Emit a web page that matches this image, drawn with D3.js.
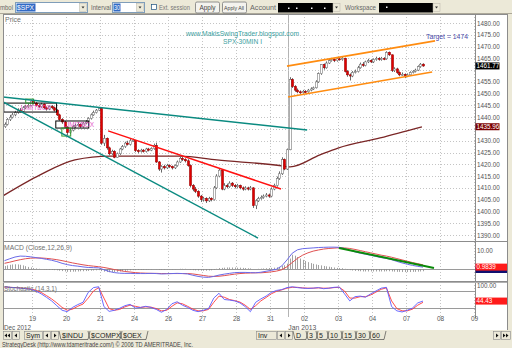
<!DOCTYPE html>
<html><head><meta charset="utf-8">
<script src="https://cdn.jsdelivr.net/npm/d3@7/dist/d3.min.js"></script>
<style>
html,body{margin:0;padding:0;background:#ece9d8;overflow:hidden}
svg{display:block}
text{font-family:"Liberation Sans",Arial,sans-serif}
</style></head><body>
<svg id="chart" width="512" height="348"></svg>
<script>
// ================= DATA =================
const firstBar = -11;          // bar index of first visible 30-min bar (Dec 18)
const firstOpen = 1436.0;
const closes = [
 1437,1439,1440,1441,1442,1443,1442.5,1444,1444.5,1445,1446.8,
 1446,1445,1444.5,1445.5,1444,1443.5,1444.5,1444,1443,1441,1439,1438,1435.8,
 1433.5,1434.5,1436,1436.5,1437,1436,1437.5,1438,1439.5,1441,1442,1443,1443.7,
 1429,1431,1427,1424.5,1425.5,1423,1424.5,1426.5,1427.5,1429,1428.5,1430,1430.2,
 1425.8,1425.5,1426,1425.5,1426.5,1426,1426.7,
 1428,1421,1418,1419,1418.5,1419.5,1419,1418.5,1419.5,1421,1422.5,1422,1421.5,
 1419.5,1411,1409.5,1408.5,1406.5,1405,1405.5,1404.5,1405.5,1405,1410,1415,1417.5,
 1409.5,1411,1410.5,1412,1411,1410.5,1411,1410,1409.5,1410,1409.5,1410,1402.5,
 1404.5,1405.5,1406,1406.5,1407,1406.5,1409.5,1411,1414,1416,1422,1418,1426.2,
 1456,1453,1451.5,1450.8,1450.5,1451,1450.8,1451.5,1452,1452.5,1455,1458.5,1462.4,
 1461,1463,1464,1464.5,1464,1464.8,1464.5,1465,1459.5,1458,1457.5,1459,1459.4,
 1461,1462.5,1462,1463.5,1464,1463.5,1464.5,1465,1464.5,1465,1464.8,1467.5,1466.5,
 1459.8,1460.5,1459,1458,1458.2,1457.5,1458,1459,1459.5,1460,1461.5,1462.5,1461.77
];
const highs = [
 1437.8,1439.6,1441,1441.8,1442.7,1443.8,1443.9,1444.7,1445.3,1445.8,1447.2,
 1447.7,1446.5,1445.6,1446.1,1445.9,1444.6,1445,1445.2,1444.5,1443.4,1441.5,1439.6,1438.4,
 1436.2,1435,1436.6,1437.2,1437.8,1437.4,1438,1438.8,1440,1441.6,1442.8,1443.5,1444.2,
 1443.8,1432.5,1431.4,1427.5,1426.2,1426,1425,1427,1428.2,1429.6,1430,1430.8,1430.9,
 1430.4,1426.4,1426.6,1426.5,1427,1427,1427.2,
 1428.8,1429.2,1421.4,1419.6,1419.8,1420.2,1420,1419.5,1420,1421.6,1423.2,1423.4,1422.6,
 1422.2,1420,1411.6,1410.4,1409,1407,1406.2,1406,1406.2,1406,1410.8,1415.8,1418.2,
 1418,1412,1411.8,1412.8,1412.5,1411.6,1411.7,1411.4,1410.6,1410.7,1410.5,1410.8,1410.3,
 1405.2,1406.2,1406.8,1407.2,1407.8,1407.6,1410.2,1411.8,1414.8,1417,1423,1422.5,1426.7,
 1457,1456.6,1453.6,1452.2,1451.4,1451.6,1451.5,1452,1452.7,1453,1455.7,1459,1462.6,
 1462.8,1463.7,1464.7,1465.2,1465,1465.4,1465.3,1465.6,1465.3,1460,1458.6,1459.6,1460.2,
 1461.8,1463.2,1463.4,1464,1464.8,1464.6,1465,1465.7,1465.5,1465.6,1465.5,1468,1467.9,
 1466.6,1461.2,1461,1459.5,1459,1458.6,1458.6,1459.5,1460,1460.6,1462,1463,1462.9
];
const lows = [
 1435.5,1436.5,1438.4,1439.5,1440.4,1441.5,1442,1442,1443.5,1444,1444.6,
 1445.4,1444.5,1443.8,1444,1443.5,1442.8,1443,1443.4,1442.4,1440.5,1438.5,1437.2,1435.5,
 1432.3,1432.8,1434,1435.4,1436,1435.5,1435.6,1437,1437.6,1439,1440.6,1441.6,1442.6,
 1428.3,1427.8,1426.2,1423.8,1424,1422.6,1422.8,1424,1426,1427,1428,1428,1429.5,
 1425.2,1424.7,1425,1425,1425,1425.5,1425.6,
 1426.2,1420.6,1417.2,1416.5,1417.8,1418,1418.4,1417.8,1418,1419,1420.6,1421.4,1420.8,
 1419,1410.2,1408.6,1407.8,1405.8,1404,1404.2,1403.6,1404,1404.3,1404.6,1409.5,1414.5,
 1409,1409,1409.8,1410,1410.4,1409.8,1410,1409.4,1408.8,1409,1408.9,1409,1401.5,
 1401,1404,1405,1405.4,1406,1405.8,1406,1409,1410.5,1413.4,1415.5,1417.5,1417.6,
 1426,1452.4,1450.8,1450.2,1449.9,1450,1450.2,1450.4,1451,1451.6,1452.2,1454.6,1458,
 1460.2,1460.6,1462.6,1463.6,1463.4,1463.6,1464,1464,1459,1457.2,1455.6,1457,1458.6,
 1459,1460.6,1461.4,1461.6,1463,1463,1463,1464,1464,1464,1464.2,1464.4,1466,
 1459.2,1459.2,1458.4,1457.4,1457.6,1456.6,1457,1457.6,1458.6,1459,1459.6,1461,1461.4
];
const dayLabels = ["19","20","21","24","26","27","28","31","02","03","04","07","08","09"];
const barsPerLabel = 13;
const yearBreakBar = 98;
const monthLabels = ["Dec 2012","Jan 2013"];
const priceTicks = d3.range(1390, 1481, 5);
const lastPrice = 1461.77;
const maLast = 1435.96;
// moving average (bar, price)
const maBars = [-11.6,2.6,15.9,29.3,56.1,70.2,95.5,98.2,109.6,116.5,132.6,148.6];
const maVals = [1406.6,1415.5,1421.9,1423.5,1423.5,1421.9,1419.3,1418.9,1424.0,1426.9,1431.2,1435.9];
// drawn trend lines: [bar, price]
const tealUpper   = [[-11.6,1448.6],[104.7,1434.6]];
const tealLower   = [[-11.6,1446.5],[85.9,1388.7]];
const redTrend    = [[28.6,1434.2],[94.7,1409.5]];
const orangeUpper = [[97.0,1461.7],[153.6,1472.4]];
const orangeLower = [[97.4,1448.6],[152.5,1459.2]];
const limitBoxes  = [[-10.8,1446.0,9.4,1442.2],[9.1,1438.4,21.7,1435.4]];
const greenBoxes  = [[-2.4,1447.7,0.6,1446.0],[11.4,1435.4,14.8,1432.0]];
const targetText = "Target = 1474";
// indicators, sampled every 2 bars from firstBar
const oscStep = 2;
const macdLine = [4.4,5.4,6.3,6.8,6.7,6.4,6.0,5.6,5.1,4.6,3.9,3.0,2.3,1.8,1.5,1.1,0.8,0.7,0.6,-0.4,
 -1.3,-1.9,-2.2,-2.3,-2.3,-2.4,-2.4,-2.4,-2.3,-2.4,-2.6,-2.5,-2.4,-2.3,-2.4,-2.6,-3.3,-3.9,-4.3,-4.4,
 -3.9,-3.2,-2.7,-2.3,-1.9,-1.8,-1.8,-1.9,-2.0,-1.7,-1.2,-0.7,-0.1,1.6,4.8,8.3,10.1,10.7,10.9,11.1,
 11.3,11.4,11.5,11.5,11.4,10.8,9.9,9.0,8.3,7.8,7.2,6.6,6.0,5.6,4.9,4.0,3.2,2.5,1.9,1.4,0.98];
const macdSignal = [3.0,3.6,4.3,4.9,5.4,5.7,5.8,5.8,5.6,5.3,4.9,4.4,3.8,3.2,2.7,2.2,1.8,1.5,1.2,0.8,
 0.3,-0.3,-0.8,-1.3,-1.6,-1.9,-2.1,-2.2,-2.3,-2.3,-2.4,-2.4,-2.4,-2.4,-2.4,-2.4,-2.6,-3.0,-3.4,-3.8,
 -3.9,-3.8,-3.5,-3.1,-2.7,-2.4,-2.2,-2.1,-2.0,-2.0,-1.8,-1.5,-1.1,-0.4,1.2,3.4,5.6,7.3,8.5,9.4,
 10.0,10.5,10.8,11.0,11.2,11.1,10.8,10.3,9.7,9.1,8.5,7.9,7.3,6.8,6.2,5.5,4.8,4.1,3.4,2.8,2.2];
// histogram, one value per bar
const macdHist = [
 1.6,1.9,2.2,2.4,2.5,2.4,2.2,1.9,1.5,1.1,0.8,
 0.5,0.3,0.1,0,-0.2,-0.3,-0.4,-0.5,-0.6,-0.7,-0.9,-1.1,-1.3,
 -1.5,-1.5,-1.4,-1.4,-1.3,-1.2,-1.2,-1.1,-1.0,-0.9,-0.8,-0.7,-0.6,
 -1.1,-1.4,-1.6,-1.7,-1.6,-1.6,-1.5,-1.3,-1.1,-1.0,-0.8,-0.7,-0.6,
 -0.6,-0.5,-0.4,-0.4,-0.3,-0.2,-0.2,
 0,-0.1,-0.3,-0.3,-0.3,-0.2,-0.2,-0.2,-0.1,0,0.1,0.1,0.1,
 0,-0.3,-0.6,-0.7,-0.8,-0.9,-0.9,-0.9,-0.8,-0.7,-0.4,0.1,0.5,
 0.6,0.7,0.8,0.8,0.8,0.8,0.7,0.7,0.6,0.5,0.4,0.3,0,
 0,0.1,0.2,0.3,0.4,0.5,0.6,0.7,0.9,1.1,1.6,2.0,2.8,
 5.5,7.5,7.0,6.3,5.5,4.8,4.2,3.6,3.1,2.7,2.4,2.1,1.9,
 1.6,1.4,1.2,1.0,0.8,0.6,0.5,0.4,0.1,-0.3,-0.6,-0.8,-1.0,
 -1.1,-1.2,-1.3,-1.3,-1.3,-1.3,-1.3,-1.3,-1.3,-1.3,-1.3,-1.2,-1.2,
 -1.3,-1.4,-1.5,-1.5,-1.6,-1.6,-1.6,-1.6,-1.5,-1.5,-1.4,-1.3,-1.2
];
const macdTrend = [[116.9,11.1],[153.2,0.5]];
const macdLast = 0.9839, macdSecond = 0.0;
const stochK = [95,93,92,90,88,86,80,70,58,45,28,12,7,22,32,40,75,92,95,25,
 8,12,19,28,33,20,22,26,22,15,5,15,35,42,30,22,12,7,12,18,
 55,72,50,48,45,38,25,7,40,52,62,75,82,85,92,95,92,90,89,90,
 92,88,90,93,94,70,45,60,62,58,70,80,90,93,25,10,6,12,20,38,44.43];
const stochD = [94,93,92,91,89,87,83,75,64,52,38,22,12,16,26,34,55,80,92,55,
 18,12,15,24,30,26,22,24,23,18,10,12,26,38,35,26,16,10,10,15,
 40,62,58,50,46,41,30,15,28,45,57,70,79,84,90,93,93,91,90,90,
 91,90,90,92,93,80,55,55,60,60,66,76,86,91,45,18,10,10,16,30,40];
const stochLast = 44.43;
const stochLevels = [20, 80];

// ================= DRAWING =================
const svg = d3.select("#chart");
const L = 3, R = 475, AX = 507;
const P = {top:14, bottom:241}, M = {top:242, bottom:281}, S = {top:282, bottom:317};

const x  = d3.scaleLinear().domain([0, 13]).range([32, 66]);
const yP = d3.scaleLinear().domain([1390, 1480]).range([235, 23]);
const yM = d3.scaleLinear().domain([0, 10]).range([269, 250]);
const yS = d3.scaleLinear().domain([20, 80]).range([308, 291]);
const xc = b => x(b + 0.5);

// background & white chart area
svg.append("rect").attr("width",512).attr("height",348).attr("fill","#ece9d8");
svg.append("rect").attr("x",L).attr("y",P.top).attr("width",AX-L).attr("height",330-P.top).attr("fill","#fff");

// clip paths
const defs = svg.append("defs");
[["cp",P],["cm",M],["cs",S]].forEach(([id,p])=>{
  defs.append("clipPath").attr("id",id).append("rect").attr("x",L).attr("y",p.top).attr("width",R-L).attr("height",p.bottom-p.top);
});

const labelBars = dayLabels.map((d,i)=>i*barsPerLabel);

// grids
function vGrid(p){
  const g = svg.append("g");
  g.selectAll("line").data(labelBars).join("line")
    .attr("x1",d=>Math.round(x(d))+0.5).attr("x2",d=>Math.round(x(d))+0.5)
    .attr("y1",p.top).attr("y2",p.bottom)
    .attr("stroke","#c4c4c4").attr("stroke-dasharray","1,2");
  g.append("line").attr("x1",Math.round(x(yearBreakBar))+0.5).attr("x2",Math.round(x(yearBreakBar))+0.5)
    .attr("y1",p.top).attr("y2",p.bottom).attr("stroke","#b4b4b4");
}
vGrid(P); vGrid(M); vGrid(S);
svg.append("g").selectAll("line").data(priceTicks).join("line")
  .attr("x1",L).attr("x2",R).attr("y1",d=>Math.round(yP(d))+0.5).attr("y2",d=>Math.round(yP(d))+0.5)
  .attr("stroke","#c4c4c4").attr("stroke-dasharray","1,2");

// ---- price pane ----
const pg = svg.append("g").attr("clip-path","url(#cp)");
const bars = closes.map((c,i)=>({b:firstBar+i, o: i===0?firstOpen:closes[i-1], c, h:highs[i], l:lows[i]}));
// moving average
pg.append("path").datum(maBars.map((b,i)=>[b,maVals[i]]))
  .attr("d", d3.line().x(d=>x(d[0]+0.5)).y(d=>yP(d[1])).curve(d3.curveMonotoneX))
  .attr("fill","none").attr("stroke","#7a2626").attr("stroke-width",1.3);
// candles
const cg = pg.append("g");
cg.selectAll("line").data(bars).join("line")
  .attr("x1",d=>Math.round(xc(d.b))+0.5).attr("x2",d=>Math.round(xc(d.b))+0.5)
  .attr("y1",d=>yP(d.h)).attr("y2",d=>yP(d.l)).attr("stroke","#6a6a6a").attr("stroke-width",1);
cg.selectAll("rect").data(bars).join("rect")
  .attr("x",d=>Math.round(xc(d.b))-0.5).attr("width",2)
  .attr("y",d=>yP(Math.max(d.o,d.c))).attr("height",d=>Math.max(1,Math.abs(yP(d.o)-yP(d.c))))
  .attr("fill",d=>d.c>=d.o?"#ffffff":"#e00000")
  .attr("stroke",d=>d.c>=d.o?"#777":"#a00000").attr("stroke-width",0.6);

// annotation boxes
pg.selectAll(".lb").data(limitBoxes).join("rect").attr("class","lb")
  .attr("x",d=>x(d[0])).attr("y",d=>yP(d[1])).attr("width",d=>x(d[2])-x(d[0])).attr("height",d=>yP(d[3])-yP(d[1]))
  .attr("fill","none").attr("stroke","#000").attr("stroke-width",1);
pg.selectAll(".lbt").data(limitBoxes).join("text").attr("class","lbt")
  .attr("x",(d,i)=>x(d[0])+(i===0?17:8)).attr("y",d=>(yP(d[1])+yP(d[3]))/2+2.4)
  .attr("font-size",6.5).attr("fill","#e040c0").attr("opacity",0.85).text("LIMITBOX");
pg.selectAll(".gb").data(greenBoxes).join("rect").attr("class","gb")
  .attr("x",d=>x(d[0])).attr("y",d=>yP(d[1])).attr("width",d=>x(d[2])-x(d[0])).attr("height",d=>yP(d[3])-yP(d[1]))
  .attr("fill","none").attr("stroke","#30a030").attr("stroke-width",1);

// trend lines
function tl(g, pts, sx, sy, color, w){
  g.append("line").attr("x1",sx(pts[0][0]+0.5)).attr("y1",sy(pts[0][1]))
   .attr("x2",sx(pts[1][0]+0.5)).attr("y2",sy(pts[1][1]))
   .attr("stroke",color).attr("stroke-width",w);
}
tl(pg, tealUpper, x, yP, "#0a8a80", 1.5);
tl(pg, tealLower, x, yP, "#0a8a80", 1.5);
tl(pg, redTrend, x, yP, "#ff1010", 1.5);
tl(pg, orangeUpper, x, yP, "#ff8c10", 1.6);
tl(pg, orangeLower, x, yP, "#ff8c10", 1.6);

// texts in price pane
svg.append("text").attr("x",5).attr("y",22).attr("font-size",7).attr("fill","#707070").text("Price");
svg.append("text").attr("x",186).attr("y",36).attr("font-size",6.3).attr("fill","#3a9e9e")
  .attr("textLength",113).attr("lengthAdjust","spacingAndGlyphs").text("www.MakisSwingTrader.blogspot.com");
svg.append("text").attr("x",223).attr("y",43.6).attr("font-size",6.3).attr("fill","#3a9e9e")
  .attr("textLength",39).attr("lengthAdjust","spacingAndGlyphs").text("SPX-30MIN I");
svg.append("text").attr("x",426).attr("y",38.5).attr("font-size",7).attr("fill","#4848a8")
  .attr("textLength",42).attr("lengthAdjust","spacingAndGlyphs").text(targetText);

// ---- MACD pane ----
const mg = svg.append("g").attr("clip-path","url(#cm)");
mg.append("line").attr("x1",L).attr("x2",R).attr("y1",Math.round(yM(0))+0.5).attr("y2",Math.round(yM(0))+0.5).attr("stroke","#9a9a9a");
mg.selectAll(".h").data(macdHist).join("line").attr("class","h")
  .attr("x1",(d,i)=>Math.round(xc(firstBar+i))+0.5).attr("x2",(d,i)=>Math.round(xc(firstBar+i))+0.5)
  .attr("y1",yM(0)).attr("y2",d=>yM(d)).attr("stroke","#8a8a8a").attr("stroke-width",0.8);
const oscLine = (sy)=>d3.line().x((d,i)=>xc(firstBar+i*oscStep)).y(d=>sy(d));
mg.append("path").datum(macdSignal).attr("d",oscLine(yM)).attr("fill","none").attr("stroke","#e05050").attr("stroke-width",1);
mg.append("path").datum(macdLine).attr("d",oscLine(yM)).attr("fill","none").attr("stroke","#6a6ae8").attr("stroke-width",1);
tl(mg, macdTrend, x, yM, "#0a8a0a", 2);
svg.append("text").attr("x",4).attr("y",250).attr("font-size",7).attr("fill","#707070")
  .attr("textLength",68).attr("lengthAdjust","spacingAndGlyphs").text("MACD (Close,12,26,9)");

// ---- Stochastic pane ----
const sg = svg.append("g").attr("clip-path","url(#cs)");
sg.selectAll(".lv").data(stochLevels).join("line").attr("class","lv")
  .attr("x1",L).attr("x2",R).attr("y1",d=>Math.round(yS(d))+0.5).attr("y2",d=>Math.round(yS(d))+0.5).attr("stroke","#9a9a9a");
sg.append("path").datum(stochD).attr("d",oscLine(yS)).attr("fill","none").attr("stroke","#ff3a3a").attr("stroke-width",0.9);
sg.append("path").datum(stochK).attr("d",oscLine(yS)).attr("fill","none").attr("stroke","#5a5aff").attr("stroke-width",0.9);
svg.append("text").attr("x",4).attr("y",290.5).attr("font-size",7).attr("fill","#707070")
  .attr("textLength",53).attr("lengthAdjust","spacingAndGlyphs").text("Stochastic (14,3,1)");

// pane borders
const bd = svg.append("g").attr("stroke","#8c8c8c").attr("fill","none");
bd.append("line").attr("x1",L+0.5).attr("x2",L+0.5).attr("y1",P.top).attr("y2",330);
bd.append("line").attr("x1",L).attr("x2",AX).attr("y1",P.top+0.5).attr("y2",P.top+0.5);
bd.append("line").attr("x1",R+0.5).attr("x2",R+0.5).attr("y1",P.top).attr("y2",S.bottom+1);
bd.append("line").attr("x1",L).attr("x2",AX).attr("y1",P.bottom+0.5).attr("y2",P.bottom+0.5);
bd.append("line").attr("x1",L).attr("x2",AX).attr("y1",M.bottom+0.5).attr("y2",M.bottom+0.5);
bd.append("line").attr("x1",L).attr("x2",AX).attr("y1",S.top+0.5).attr("y2",S.top+0.5).attr("stroke","#b0b0b0");
bd.append("line").attr("x1",AX+0.5).attr("x2",AX+0.5).attr("y1",P.top).attr("y2",330);

// axes (tick labels hidden under value boxes are skipped, as in the original)
const boxPrices = [lastPrice, maLast];
const shownPriceTicks = priceTicks.filter(t => boxPrices.every(b => Math.abs(yP(t) - yP(b)) > 7));
function styleAxis(g){ g.select(".domain").remove(); g.attr("font-size",6.3).attr("font-family","Liberation Sans, Arial, sans-serif"); g.selectAll("text").attr("fill","#555"); }
svg.append("g").attr("transform",`translate(${R},0)`)
  .call(d3.axisRight(yP).tickValues(shownPriceTicks).tickFormat(d3.format(".2f")).tickSize(0).tickPadding(2)).call(styleAxis);
svg.append("g").attr("transform",`translate(${R},0)`)
  .call(d3.axisRight(yM).tickValues([10]).tickFormat(d3.format(".2f")).tickSize(0).tickPadding(2)).call(styleAxis);
svg.append("g").attr("transform",`translate(${R},0)`)
  .call(d3.axisRight(yS).tickValues([100]).tickFormat(d3.format(".2f")).tickSize(0).tickPadding(2)).call(styleAxis);
const xa = svg.append("g").attr("transform",`translate(0,${S.bottom})`)
  .call(d3.axisBottom(x).tickValues(labelBars).tickFormat((d,i)=>dayLabels[i]).tickSize(0).tickPadding(0));
xa.select(".domain").remove();
xa.attr("font-size",6.5).attr("font-family","Liberation Sans, Arial, sans-serif");
xa.selectAll("text").attr("fill","#555").attr("dy","0.6em");
svg.append("text").attr("x",4).attr("y",329.5).attr("font-size",6.5).attr("fill","#555")
  .attr("textLength",27).attr("lengthAdjust","spacingAndGlyphs").text(monthLabels[0]);
svg.append("text").attr("x",x(yearBreakBar)).attr("y",329.5).attr("font-size",6.5).attr("fill","#555")
  .attr("textLength",28).attr("lengthAdjust","spacingAndGlyphs").text(monthLabels[1]);

// axis value boxes
function vbox(y, txt, bg, w){
  svg.append("rect").attr("x",R+0.5).attr("y",y-3.5).attr("width",w).attr("height",7).attr("fill",bg);
  svg.append("text").attr("x",R+1.5).attr("y",y+2.3).attr("font-size",6.3).attr("fill","#fff").text(txt);
}
vbox(yP(lastPrice), d3.format(".2f")(lastPrice), "#000", 24);
vbox(yP(maLast), d3.format(".2f")(maLast), "#7a0000", 24);
svg.append("rect").attr("x",R+0.5).attr("y",yM(macdSecond)-2).attr("width",AX-R-0.5).attr("height",6).attr("fill","#101070");
vbox(yM(macdLast), d3.format(".4f")(macdLast), "#ff1a1a", AX-R-0.5);
vbox(yS(stochLast), d3.format(".2f")(stochLast), "#ff1a1a", AX-R-0.5);

// ---- toolbar ----
const tb = svg.append("g");
tb.append("line").attr("x1",0).attr("x2",512).attr("y1",13.5).attr("y2",13.5).attr("stroke","#aca899");
const t7 = (x0,y0,s,fill,len,fs)=>{const t=tb.append("text").attr("x",x0).attr("y",y0).attr("font-size",fs||7).attr("fill",fill||"#555").text(s); if(len) t.attr("textLength",len).attr("lengthAdjust","spacingAndGlyphs"); return t;};
function ddBtn(x0){ tb.append("rect").attr("x",x0).attr("y",3.5).attr("width",7).attr("height",8).attr("fill","#ece9d8").attr("stroke","#b8b4a8").attr("stroke-width",0.5);
  tb.append("path").attr("d",`M${x0+2},${6.5}L${x0+5},${6.5}L${x0+3.5},${8.5}Z`).attr("fill","#333"); }
t7(0,10,"mbol","#666",13);
tb.append("rect").attr("x",15.5).attr("y",2.5).attr("width",72).attr("height",10).attr("fill","#fff").attr("stroke","#7f9db9");
tb.append("rect").attr("x",16.5).attr("y",3.5).attr("width",19).attr("height",8).attr("fill","#316ac5");
t7(17,10.2,"$SPX","#fff",17);
ddBtn(79.5);
t7(91,10,"Interval","#666",20);
tb.append("rect").attr("x",112.5).attr("y",2.5).attr("width",32).attr("height",10).attr("fill","#fff").attr("stroke","#7f9db9");
tb.append("rect").attr("x",113.5).attr("y",3.5).attr("width",7).attr("height",8).attr("fill","#316ac5");
t7(114,10.2,"30","#fff",6);
ddBtn(136.5);
tb.append("rect").attr("x",151.5).attr("y",4.5).attr("width",5).attr("height",5).attr("fill","#fff").attr("stroke","#1c5180").attr("stroke-width",0.7);
t7(159,10,"Ext. session","#777",31);
tb.append("rect").attr("x",195.5).attr("y",2).attr("width",24).attr("height",11).attr("rx",1.5).attr("fill","#f4f3ee").attr("stroke","#7a7a7a").attr("stroke-width",0.8);
t7(199.5,10,"Apply","#444",16,6.5);
tb.append("rect").attr("x",222.5).attr("y",2).attr("width",24).attr("height",11).attr("rx",1.5).attr("fill","#f4f3ee").attr("stroke","#7a7a7a").attr("stroke-width",0.8);
t7(224,10,"Apply All","#444",20,6.2);
t7(250,10,"Account","#666",26,6.5);
tb.append("rect").attr("x",278).attr("y",3).attr("width",55).attr("height",9.5).attr("fill","#000");
[288,296,311,324].forEach(dx=>tb.append("rect").attr("x",dx).attr("y",7.5).attr("width",1.5).attr("height",1.5).attr("fill","#fff"));
ddBtn(333);
t7(345,10,"Workspace","#666",31);
tb.append("rect").attr("x",379).attr("y",3).attr("width",54).attr("height",9.5).attr("fill","#000");
tb.append("rect").attr("x",386).attr("y",6.5).attr("width",1.5).attr("height",1.5).attr("fill","#fff");
ddBtn(433);

// ---- bottom tab bar ----
const bb = svg.append("g");
function btn(x0,w,label,arrow){
  bb.append("rect").attr("x",x0+0.5).attr("y",331.5).attr("width",w).attr("height",8).attr("fill","#ece9d8").attr("stroke","#8a8a8a").attr("stroke-width",0.6);
  if(label) bb.append("text").attr("x",x0+2).attr("y",338).attr("font-size",7).attr("fill","#222").text(label);
  if(arrow){ arrow.forEach(a=>{ const cx=x0+a[0]; const d=a[1]>0?`M${cx-1},333.5L${cx+1.5},335.5L${cx-1},337.5Z`:`M${cx+1},333.5L${cx-1.5},335.5L${cx+1},337.5Z`; bb.append("path").attr("d",d).attr("fill","#111");}); }
}
btn(3,8,null,[[3,-1],[6,-1]]); btn(12,7,null,[[4,-1]]);
btn(24,18,"Sym"); btn(43,7,null,[[4,-1]]); btn(51,7,null,[[4,1]]);
function tabs(x0, items){
  let cx=x0;
  items.forEach(([s,w])=>{
    bb.append("path").attr("d",`M${cx},331L${cx+2},339.5L${cx+w},339.5L${cx+w+2},331`).attr("fill","none").attr("stroke","#333").attr("stroke-width",0.6);
    bb.append("text").attr("x",cx+3).attr("y",338).attr("font-size",7).attr("fill","#222").text(s);
    cx+=w;
  });
}
tabs(59,[["$INDU",29],["$COMPX",32],["$OEX",26]]);
btn(256,20,"Inv"); btn(277,7,null,[[4,-1]]); btn(285,7,null,[[4,1]]);
tabs(293,[["D",13],["3",10],["5",11],["10",14],["15",14],["30",14],["60",15]]);
btn(493,7,null,[[4,1]]); btn(501,9,null,[[3,1],[6,1]]);

// footer
svg.append("text").attr("x",2).attr("y",347).attr("font-size",6.5).attr("fill","#444")
  .attr("textLength",191).attr("lengthAdjust","spacingAndGlyphs")
  .text("StrategyDesk (http://www.tdameritrade.com/) \u00a9 2006 TD AMERITRADE, Inc.");
</script>
</body></html>
